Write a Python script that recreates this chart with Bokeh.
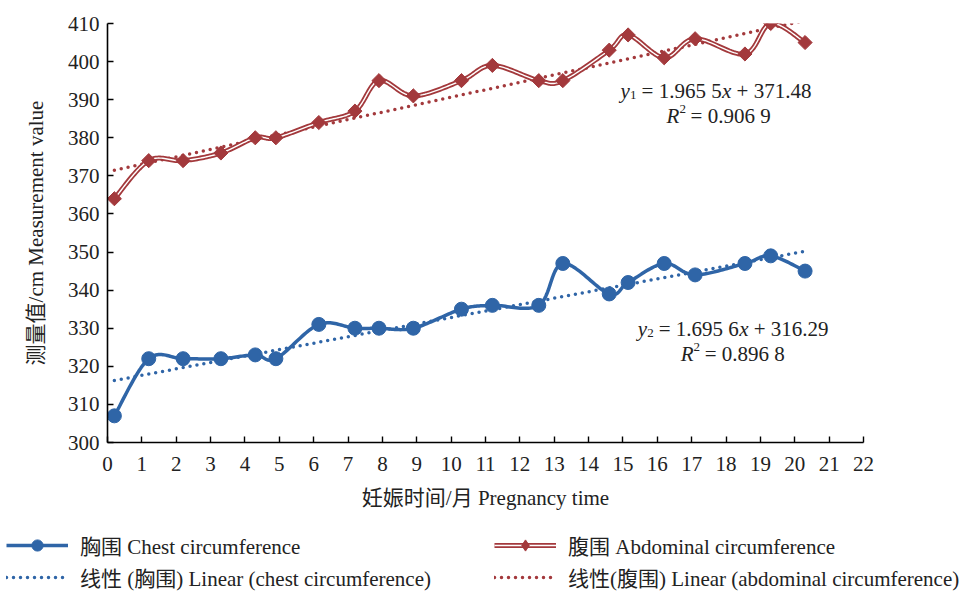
import numpy as np
from bokeh.plotting import figure
from bokeh.layouts import column
from bokeh.models import Range1d, FixedTicker, Legend, LegendItem, Label
from bokeh.embed import file_html
from bokeh.resources import INLINE

# ---- data ----
months = [0.2, 1.2, 2.2, 3.3, 4.3, 4.9, 6.15, 7.2, 7.9, 8.9, 10.3, 11.2,
          12.55, 13.25, 14.6, 15.15, 16.2, 17.1, 18.55, 19.3, 20.3]
chest = [307, 322, 322, 322, 323, 322, 331, 330, 330, 330, 335, 336,
         336, 347, 339, 342, 347, 344, 347, 349, 345]
abdominal = [364, 374, 374, 376, 380, 380, 384, 387, 395, 391, 395, 399,
             395, 395, 403, 407, 401, 406, 402, 410, 405]
chest_slope, chest_intercept = 1.6956, 316.29
abd_slope, abd_intercept = 1.9655, 371.48
x_ticks = list(range(0, 23))
y_ticks = list(range(300, 411, 10))

BLUE = "#2F65A7"
RED = "#A3393C"
FONT = "Liberation Serif, Noto Sans CJK SC"


def smooth(xs, ys, steps=24):
    P = np.column_stack([xs, ys]).astype(float)
    n = len(P)
    out = [P[0]]
    t = np.linspace(0, 1, steps + 1)[1:, None]
    for i in range(n - 1):
        pm, p0, p1 = P[max(i - 1, 0)], P[i], P[i + 1]
        p2 = P[min(i + 2, n - 1)]
        c0 = p0 + (p1 - pm) / 6.0
        c1 = p1 - (p2 - p0) / 6.0
        seg = ((1 - t) ** 3) * p0 + 3 * ((1 - t) ** 2) * t * c0 + 3 * (1 - t) * t ** 2 * c1 + t ** 3 * p1
        out.extend(seg)
    out = np.array(out)
    return out[:, 0], out[:, 1]


idx = np.arange(len(months))
tx = [months[0], months[-1]]
abd_trend_y = [abd_slope * idx[0] + abd_intercept, abd_slope * idx[-1] + abd_intercept]
chest_trend_y = [chest_slope * idx[0] + chest_intercept, chest_slope * idx[-1] + chest_intercept]
cx, cy = smooth(months, chest)
ax_, ay_ = smooth(months, abdominal)


def draw_series(fig, legend_style=False):
    r = {}
    r["abd_trend"] = fig.line(tx, abd_trend_y, line_color=RED, line_width=3.5,
                              line_dash="0 7", line_cap="round")
    r["chest_trend"] = fig.line(tx, chest_trend_y, line_color=BLUE, line_width=3.5,
                                line_dash="0 7", line_cap="round")
    r["chest_line"] = fig.line(cx, cy, line_color=BLUE, line_width=3.5, line_join="round")
    r["abd_outer"] = fig.line(ax_, ay_, line_color=RED, line_width=5, line_join="round")
    r["abd_inner"] = fig.line(ax_, ay_, line_color="white", line_width=1.4, line_join="round")
    if legend_style:
        r["chest_pts"] = fig.scatter(months, chest, marker="circle", size=12,
                                     fill_color=BLUE, line_color=BLUE)
        r["abd_pts"] = fig.scatter(months, abdominal, marker="diamond", size=15,
                                   fill_color=RED, line_color=RED)
    else:
        r["chest_pts"] = fig.scatter(months, chest, marker="circle", size=14,
                                     fill_color=BLUE, line_color=BLUE)
        r["abd_pts"] = fig.scatter(months, abdominal, marker="square", size=10,
                                   angle=np.pi / 4, fill_color=RED, line_color=RED)
    return r


# ---- main chart ----
p = figure(width=950, height=520, output_backend="svg", toolbar_location=None,
           x_range=Range1d(0, 22), y_range=Range1d(300, 410),
           min_border_left=107, min_border_right=87, min_border_top=23,
           min_border_bottom=78)
p.frame_align = False
p.outline_line_color = None
p.grid.visible = False
p.background_fill_color = "white"
p.border_fill_color = "white"

for axis in (p.xaxis[0], p.yaxis[0]):
    axis.axis_line_color = "black"
    axis.axis_line_width = 1.6
    axis.major_tick_line_color = "black"
    axis.major_tick_line_width = 1.4
    axis.major_tick_in = 6
    axis.major_tick_out = 0
    axis.minor_tick_line_color = None
    axis.major_label_text_font = FONT
    axis.major_label_text_font_size = "21px"
    axis.major_label_text_color = "#222222"
    axis.axis_label_text_font = FONT
    axis.axis_label_text_font_size = "21px"
    axis.axis_label_text_font_style = "normal"
    axis.axis_label_text_color = "#222222"

p.xaxis.ticker = FixedTicker(ticks=x_ticks)
p.yaxis.ticker = FixedTicker(ticks=y_ticks)
p.xaxis.axis_label = "妊娠时间/月 Pregnancy time"
p.yaxis.axis_label = "测量值/cm Measurement value"
p.xaxis.major_label_standoff = 14
p.yaxis.major_label_standoff = 8
p.xaxis.axis_label_standoff = 12
p.yaxis.axis_label_standoff = 17

draw_series(p)


def eq(x, y, pieces):
    for text, style, size, dx, dy in pieces:
        p.add_layout(Label(x=x, y=y, x_offset=dx, y_offset=dy, text=text,
                           text_font=FONT, text_font_size=size, text_font_style=style,
                           text_color="#222222", text_baseline="alphabetic",
                           text_align="left"))

eq(14.93, 392.2, [("y", "italic", "21px", 0, 0), ("1", "normal", "13px", 9.5, -4),
                  ("= 1.965 5", "normal", "21px", 21, 0), ("x", "italic", "21px", 101.5, 0),
                  ("+ 371.48", "normal", "21px", 116, 0)])
eq(16.27, 385.7, [("R", "italic", "21px", 0, 0), ("2", "normal", "13px", 12.8, 7),
                  ("= 0.906 9", "normal", "21px", 24, 0)])
eq(15.43, 329.8, [("y", "italic", "21px", 0, 0), ("2", "normal", "13px", 9.5, -4),
                  ("= 1.695 6", "normal", "21px", 21, 0), ("x", "italic", "21px", 101.5, 0),
                  ("+ 316.29", "normal", "21px", 116, 0)])
eq(16.68, 323.2, [("R", "italic", "21px", 0, 0), ("2", "normal", "13px", 12.8, 7),
                  ("= 0.896 8", "normal", "21px", 24, 0)])

# ---- legend strip (same series styling, view range set away from the data) ----
q = figure(width=962, height=74, output_backend="svg", toolbar_location=None,
           x_range=Range1d(-100, -99), y_range=Range1d(-100, -99),
           x_axis_location=None, y_axis_location=None,
           min_border_left=0, min_border_right=0, min_border_top=0, min_border_bottom=0)
q.frame_align = False
q.outline_line_color = None
q.grid.visible = False
q.background_fill_color = "white"
q.border_fill_color = "white"
rq = draw_series(q, legend_style=True)


def make_legend(items, loc):
    lg = Legend(items=items, location=loc, orientation="vertical",
                glyph_width=62, glyph_height=28, label_height=28, spacing=2,
                label_standoff=12, padding=0, margin=0,
                border_line_color=None, background_fill_alpha=0,
                label_text_font=FONT, label_text_font_size="21px",
                label_text_color="#222222", label_text_baseline="middle")
    q.add_layout(lg, "center")

make_legend([LegendItem(label="胸围 Chest circumference", renderers=[rq["chest_line"], rq["chest_pts"]]),
             LegendItem(label="线性 (胸围) Linear (chest circumference)", renderers=[rq["chest_trend"]])],
            (6, 2))
make_legend([LegendItem(label="腹围 Abdominal circumference",
                        renderers=[rq["abd_outer"], rq["abd_inner"], rq["abd_pts"]]),
             LegendItem(label="线性(腹围) Linear (abdominal circumference)", renderers=[rq["abd_trend"]])],
            (494, 2))

layout = column(p, q, spacing=0)
open("out.html", "w").write(file_html(layout, INLINE))
